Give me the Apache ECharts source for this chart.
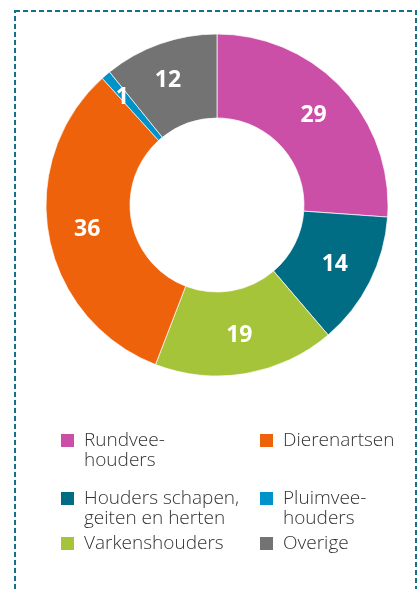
<!DOCTYPE html>
<html>
<head>
<meta charset="utf-8">
<script src="https://cdn.jsdelivr.net/npm/echarts@6/dist/echarts.min.js"></script>
<style>
  html, body { margin: 0; padding: 0; background: #fff; }
  #chart { width: 417px; height: 589px; }
</style>
</head>
<body>
<div id="chart"></div>
<script>
// Groups, in clockwise order from the top of the ring
const categories = [
  'Rundveehouders',
  'Houders schapen, geiten en herten',
  'Varkenshouders',
  'Dierenartsen',
  'Pluimveehouders',
  'Overige'
];
const values = [29, 14, 19, 36, 1, 12];
const colors = ['#cc4fa7', '#006d85', '#a6c43a', '#ee620b', '#0093c9', '#737373'];

// Legend text as printed (with manual line breaks)
const legendText = {
  'Rundveehouders': 'Rundvee-\nhouders',
  'Houders schapen, geiten en herten': 'Houders schapen,\ngeiten en herten',
  'Varkenshouders': 'Varkenshouders',
  'Dierenartsen': 'Dierenartsen',
  'Pluimveehouders': 'Pluimvee-\nhouders',
  'Overige': 'Overige'
};

// Legend grid: two columns, three rows (markerTop = top edge of the swatch)
const legendSlots = [
  { name: 'Rundveehouders', left: 59, markerTop: 433 },
  { name: 'Dierenartsen', left: 258, markerTop: 433 },
  { name: 'Houders schapen, geiten en herten', left: 59, markerTop: 491 },
  { name: 'Pluimveehouders', left: 258, markerTop: 491 },
  { name: 'Varkenshouders', left: 59, markerTop: 536 },
  { name: 'Overige', left: 258, markerTop: 536 }
];

// Small nudges for the labels in the narrow top-left slices
const labelOffsets = {
  'Pluimveehouders': [-9, -7],
  'Overige': [-5, 0]
};

const SWATCH = 15;
const LINE_H = 20;

const chart = echarts.init(document.getElementById('chart'), null, { renderer: 'canvas' });

// Legend text is centred on the swatch; a leading empty line keeps the
// first printed line level with the swatch for two-line entries.
const legends = legendSlots.map(function (slot) {
  const twoLines = legendText[slot.name].indexOf('\n') >= 0;
  const blockH = twoLines ? 3 * LINE_H : LINE_H;
  const top = slot.markerTop + SWATCH / 2 - blockH / 2;
  return {
    data: [slot.name],
    left: slot.left,
    top: top,
    padding: 0,
    itemWidth: SWATCH,
    itemHeight: SWATCH,
    icon: 'rect',
    selectedMode: false,
    formatter: function (n) { return (twoLines ? '\n' : '') + legendText[n]; },
    textStyle: {
      fontFamily: 'Open Sans',
      fontWeight: 300,
      fontSize: 19,
      lineHeight: LINE_H,
      color: '#333333',
      padding: [0, 0, 0, 4]
    }
  };
});

chart.setOption({
  animation: false,
  color: colors,
  graphic: [{
    type: 'rect',
    shape: { x: 15, y: 11, width: 401, height: 620 },
    style: { fill: 'none', stroke: '#11718a', lineWidth: 2, lineDash: [5, 3] },
    silent: true
  }],
  legend: legends,
  series: [{
    type: 'pie',
    center: [217, 205],
    radius: [87, 171],
    startAngle: 90,
    clockwise: true,
    avoidLabelOverlap: false,
    itemStyle: { borderColor: '#ffffff', borderWidth: 0.7 },
    label: {
      show: true,
      position: 'inside',
      formatter: '{c}',
      color: '#ffffff',
      fontFamily: 'Open Sans',
      fontWeight: 'bold',
      fontSize: 23
    },
    labelLine: { show: false },
    emphasis: { disabled: true },
    data: categories.map(function (c, i) {
      const item = { name: c, value: values[i] };
      if (labelOffsets[c]) item.label = { offset: labelOffsets[c] };
      return item;
    })
  }]
});
</script>
</body>
</html>
